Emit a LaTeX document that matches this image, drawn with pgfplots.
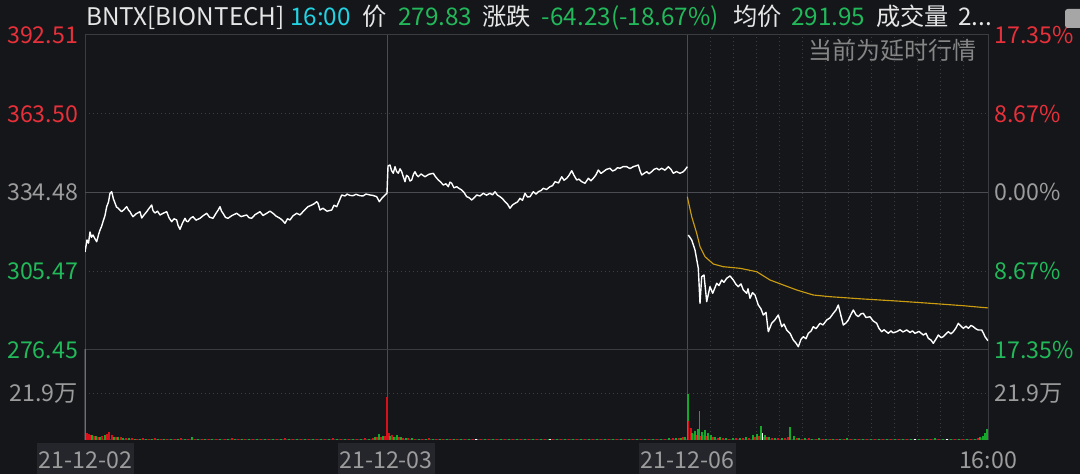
\documentclass[border=0pt]{standalone}
\usepackage{pgfplots}
\pgfplotsset{compat=1.18}
\usepackage{fontspec}
\setmainfont{Noto Sans CJK SC}
\definecolor{bg}{HTML}{14161A}
\definecolor{frame}{HTML}{3A3C41}
\definecolor{sep}{HTML}{4A4C51}
\definecolor{dotc}{HTML}{3A3D43}
\definecolor{upred}{HTML}{E8303A}
\definecolor{dngreen}{HTML}{22B95A}
\definecolor{labgray}{HTML}{9C9C9C}
\definecolor{hdrwhite}{HTML}{E6E6E6}
\definecolor{cyanc}{HTML}{22D3E3}
\definecolor{avgc}{HTML}{CC9C10}
\definecolor{boxbg}{HTML}{24262B}
\definecolor{barred}{HTML}{D8101A}
\definecolor{bargreen}{HTML}{16A82A}
\newcommand{\lab}{\fontsize{17.4}{20}\selectfont}
\pgfplotsset{
  base/.style={scale only axis, width=677.25pt, anchor=south west,
    xmin=0, xmax=903, axis line style={draw=frame, line width=0.75pt},
    major tick length=0pt, tick style={draw=none},
    tick label style={font=\lab},
    yticklabel style={anchor=east, inner sep=0pt, xshift=-5pt},
    xticklabels={}, grid style={draw=dotc, line width=0.75pt, dash pattern=on 0.75pt off 2.25pt},
    xtick={625.1,648.2,671.2,694.3,717.4,740.5,763.5,786.6,809.7,832.8,855.8,878.9},
    xmajorgrids, ymajorgrids,
    extra x ticks={302,602}, extra x tick labels={},
    extra x tick style={grid=major, major grid style={draw=sep, solid, line width=0.75pt}},
  },
  right/.style={scale only axis, width=677.25pt, anchor=south west,
    xmin=0, xmax=903, axis x line=none, axis y line*=right,
    y axis line style={draw=none}, major tick length=0pt, tick style={draw=none},
    tick label style={font=\lab},
    yticklabel style={anchor=west, inner sep=0pt, xshift=4.5pt}},
}
\begin{document}
\begin{tikzpicture}[x=0.75pt,y=0.75pt]
\fill[bg] (0,0) rectangle (1080,474);
\path[use as bounding box] (0,0) rectangle (1080,474);
% price panel
\begin{axis}[base, at={(63.75pt,93pt)}, height=236.25pt, ymin=276.45, ymax=392.51,
  ytick={276.45,305.47,363.50,392.51},
  yticklabels={\textcolor{dngreen}{276.45},\textcolor{dngreen}{305.47},\textcolor{upred}{363.50},\textcolor{upred}{392.51}},
  extra y ticks={334.48}, extra y tick labels={\textcolor{labgray}{334.48}},
  extra y tick style={grid=major, major grid style={draw=sep, solid, line width=0.75pt}},
]
\addplot[white, line width=1.05pt, line join=round] coordinates {
(0,312.56)(2,316.98)(3.5,315.8)(5,319.93)(6.5,318.0)(8,318.82)(10,317.4)(11.7,316.35)(13.5,318.9)(15,320.66)(16.5,321.9)(18,323.72)(20,326.0)(21.7,329.25)(23.5,331.0)(25,334.19)(26.7,334.77)(28.5,332.0)(30,330.61)(31.5,329.1)(33,328.77)(35,328.0)(36.7,327.41)(39,328.2)(41.7,329.25)(43.5,328.0)(45,327.41)(46.5,326.4)(48,325.56)(51,326.6)(55,327.41)(56.7,325.08)(59,326.2)(61.7,327.41)(64,328.6)(66.7,329.87)(68,327.8)(70,326.93)(72.5,327.6)(75,326.19)(78,326.8)(81.7,327.41)(84,325.2)(86.7,323.72)(89,324.8)(91.7,324.35)(93,322.4)(95,320.92)(97.5,323.2)(100,324.97)(101.5,323.9)(103,323.72)(105.5,325.0)(108,325.56)(111,324.3)(115,324.97)(118,325.9)(121.7,326.82)(124.5,325.4)(128,324.97)(131,326.8)(133,327.9)(135,329.25)(136.5,327.6)(138,326.82)(140.5,325.3)(143,324.97)(147,326.0)(151.7,326.82)(156,325.6)(161.7,326.19)(164,325.2)(166.7,324.97)(170,326.3)(175,327.41)(178,326.0)(181.7,326.82)(185,327.6)(188,326.82)(191,325.8)(195,324.97)(197.5,324.2)(200,323.13)(202.5,324.8)(205,324.35)(208,325.9)(211.7,326.82)(215,326.2)(218,327.41)(220.5,328.4)(223,329.25)(227,329.9)(229,330.3)(231.7,331.09)(233,330.5)(235,328.03)(238,328.66)(242,327.6)(246.7,328.03)(249,329.8)(251.7,329.25)(254,331.2)(256.7,333.56)(260,333.2)(262,333.9)(265,333.4)(268,333.3)(271,333.8)(275,333.3)(278,333.2)(281,333.9)(285,333.56)(288,333.4)(291.7,332.93)(294.3,331.09)(297,332.4)(300,333.56)(302,334.2)(303,344.24)(305,344.61)(306.5,342.6)(308.3,341.55)(310,343.99)(311.5,342.3)(313.3,341.55)(315,343.2)(316.7,342.14)(318,340.6)(320,338.46)(321.5,340.8)(323.3,340.30)(325,338.7)(326.7,339.09)(328.5,341.2)(330,342.14)(331.5,341.0)(333.3,340.30)(336,341.3)(340,340.30)(344,341.2)(348.3,341.55)(350.5,340.3)(353.3,339.09)(355.5,338.4)(358.3,337.24)(361,337.7)(363.3,336.62)(365,338.3)(366.7,337.87)(369,336.2)(371.7,336.62)(374,336.0)(376.7,335.40)(379,334.5)(381.7,332.93)(384,332.6)(386.7,331.72)(389,332.5)(391.7,333.56)(395,333.2)(398.3,334.19)(401.5,333.5)(405,334.19)(407.5,333.6)(410,334.77)(412.5,333.5)(415,332.93)(417.5,332.2)(420,331.09)(422.5,330.2)(425,328.66)(427.5,329.9)(430,330.50)(432.5,331.0)(435,332.34)(437.5,331.6)(440,334.19)(442.5,332.8)(445,332.93)(448.3,334.77)(451,333.9)(453.3,334.77)(456,335.2)(458.3,336.03)(461.5,335.6)(465,336.62)(467.5,337.0)(470,338.46)(473.5,338.0)(476.7,340.30)(479,339.0)(481.7,339.71)(484,340.8)(486.7,342.51)(489,340.8)(491.7,339.09)(494,339.4)(496.7,338.46)(500,337.87)(503.3,339.71)(506,338.8)(508.3,339.71)(511,341.0)(513.3,342.77)(516,341.5)(518.3,342.14)(521.5,343.0)(525,343.40)(527.5,342.4)(530,342.77)(532.5,343.6)(535,343.40)(538,344.0)(541.7,343.99)(545,343.3)(548.3,343.99)(551,344.3)(553.3,344.61)(555,342.5)(556.7,340.93)(559,341.5)(561.7,342.14)(564,341.4)(566.7,342.14)(569,343.0)(571.7,343.40)(574,342.8)(576.7,343.40)(580,342.7)(583.3,343.99)(586,343.0)(588.3,341.55)(591.5,342.2)(595,341.55)(598.3,342.14)(600,342.8)(602.3,343.99)
};
\addplot[white, line width=1.05pt, line join=round] coordinates {
(603.3,318.82)(606.7,316.98)(610,313.29)(613.3,306.55)(615,293.66)(616.7,303.46)(619,304.08)(621.7,294.25)(625,299.77)(627.7,297.34)(631.7,301.03)(634,300.2)(636.7,302.24)(639,301.4)(641.7,302.87)(645,303.72)(648.3,302.24)(651,300.6)(653.3,299.77)(656,300.8)(658.3,298.56)(661.7,297.34)(663,299.0)(665,295.50)(667.5,297.6)(670,296.71)(673.3,293.03)(676,291.6)(678.3,289.35)(681,290.3)(683.3,283.19)(686.7,286.29)(690,287.6)(693.3,289.35)(696.7,285.04)(699,286.0)(701.7,283.82)(705,282.6)(708.3,280.14)(711,279.0)(713.3,277.67)(716,280.4)(718.3,281.35)(721,280.6)(723.3,282.60)(726,283.4)(728.3,285.04)(731,284.3)(735,286.29)(738,285.7)(741.7,287.50)(745,288.3)(748.3,289.97)(751,291.2)(753.3,293.03)(756,289.0)(758.3,285.66)(761,286.4)(763.3,287.50)(766,289.6)(768.3,291.19)(771,289.4)(773.3,288.72)(776,289.8)(778.3,289.97)(781,288.4)(785,288.72)(788,287.2)(791.7,286.29)(794,284.4)(796.7,283.19)(799,283.9)(803.3,282.60)(806,283.5)(808,282.8)(811.7,283.19)(815,283.9)(818,283.1)(821.7,283.82)(825,282.9)(827.5,283.5)(830,282.60)(834,283.3)(838.3,281.98)(841,282.6)(843.3,280.76)(846,280.1)(848.3,278.92)(851,280.5)(853.3,281.98)(856,281.0)(858.3,281.35)(861,282.4)(863.3,283.19)(866,282.4)(868.3,283.19)(871,284.6)(873.3,286.29)(876,285.2)(878.3,284.45)(881,285.2)(883.3,284.45)(886,285.5)(888.3,285.04)(891,284.2)(893.3,283.82)(896.7,283.82)(898.5,282.6)(900,281.35)(903,279.83)
};
\addplot[avgc, line width=0.85pt] coordinates {
(602.3,332.93)(606.7,325.56)(611.7,319.45)(615,314.51)(620,310.83)(628.3,308.14)(638.3,307.14)(655,306.55)(671.7,305.30)(685,302.24)(698.3,300.40)(711.7,298.56)(728.3,296.71)(745,296.09)(778.3,295.24)(811.7,294.50)(845,293.66)(878.3,292.77)(903,291.95)
};
\end{axis}
\begin{axis}[right, at={(63.75pt,93pt)}, height=236.25pt, ymin=276.45, ymax=392.51,
  ytick={276.45,305.47,334.48,363.50,392.51},
  yticklabels={\textcolor{dngreen}{17.35\%},\textcolor{dngreen}{8.67\%},\textcolor{labgray}{0.00\%},\textcolor{upred}{8.67\%},\textcolor{upred}{17.35\%}}]
\end{axis}
% volume panel
\begin{axis}[base, at={(63.75pt,25.5pt)}, height=67.5pt, ymin=0, ymax=42.85,
  ytick={21.9}, yticklabels={\textcolor{labgray}{21.9万}}]
\addplot[ycomb, barred, line width=0.8pt] coordinates {
(2,3.5)(4,2.8)(6,2.5)(9,2)(13,1.6)(17,1.8)(22,2.9)(24,3.6)(27,2.2)(31,1.4)(36,1.5)(41,0.9)(47,1.1)(52,0.7)(58,0.8)(64,0.6)(70,0.9)(76,0.6)(82,0.7)(90,0.6)(96,0.8)(103,0.6)(110,0.7)(117,0.5)(124,0.6)(131,0.5)(140,0.7)(147,1.1)(153,0.6)(160,0.5)(168,0.6)(176,0.7)(184,0.5)(192,0.6)(200,0.8)(208,0.5)(216,0.6)(224,0.7)(232,0.5)(240,0.6)(248,0.8)(256,0.6)(264,0.7)(272,0.6)(280,0.8)(288,0.9)(292,1.3)(296,1.6)(300,2)
(302,20.5)(304,3.2)(307,2.4)(310,1.6)(314,1.3)(318,1.1)(323,0.9)(330,0.7)(337,0.6)(344,0.8)(351,0.5)(358,0.7)(365,0.6)(372,0.5)(380,0.7)(388,0.6)(396,0.5)(404,0.7)(412,0.6)(420,0.5)(428,0.6)(436,0.7)(444,0.5)(452,0.6)(460,0.7)(468,0.5)(476,0.6)(484,0.5)(492,0.7)(500,0.6)(508,0.5)(516,0.6)(524,0.7)(532,0.5)(540,0.6)(548,0.5)(556,0.7)(564,0.6)(572,0.5)(580,0.6)(588,0.8)(594,1.0)(598,1.3)
(606,5.5)(608,3.0)(611,2.5)(616,2.0)(619,2.4)(622,1.8)(628,1.5)(633,1.0)(638,0.8)(644,0.7)(651,0.9)(658,0.8)(664,1.1)(670,1.3)(674,1.9)(678,1.4)(682,1.2)(687,0.9)(693,1.0)(700,1.1)(703,1.5)(712,0.9)(717,0.7)(724,0.8)(731,0.6)(738,0.7)(745,0.5)(752,0.7)(759,0.6)(766,0.5)(774,0.7)(782,0.6)(790,0.5)(798,0.7)(806,0.6)(814,0.5)(822,0.6)(830,0.7)(838,0.5)(846,0.6)(854,0.5)(862,0.7)(870,0.6)(878,0.5)(886,0.6)(893,0.8)(897,1.0)(901,1.5)
};
\addplot[ycomb, bargreen, line width=0.8pt] coordinates {
(0.6,45)(7,2.2)(11,1.8)(15,1.3)(20,2.2)(29,1.6)(33,1.3)(38,1.1)(44,0.8)(50,0.6)(55,0.7)(61,0.5)(67,0.7)(73,0.6)(79,0.6)(86,0.7)(93,0.5)(100,0.6)(107,1.2)(113,0.7)(120,0.5)(127,0.6)(135,0.7)(143,0.5)(150,0.6)(157,0.7)(164,0.5)(172,0.6)(180,0.5)(188,0.7)(196,0.6)(204,0.5)(212,0.7)(220,0.6)(228,0.5)(236,0.6)(244,0.7)(252,0.5)(260,0.6)(268,0.5)(276,0.7)(284,0.6)(290,1.2)(294,2.8)(298,1.9)
(305,2.0)(309,1.5)(312,2.6)(316,1.2)(321,1.0)(327,0.8)(334,0.7)(341,0.6)(348,0.5)(355,0.6)(362,0.7)(369,0.5)(376,0.6)(384,0.5)(392,0.6)(400,0.7)(408,0.5)(416,0.6)(424,0.5)(432,0.6)(440,0.5)(448,0.7)(456,0.6)(464,0.5)(472,0.6)(480,0.7)(488,0.5)(496,0.6)(504,0.5)(512,0.7)(520,0.6)(528,0.5)(536,0.6)(544,0.5)(552,0.6)(560,0.5)(568,0.7)(576,0.6)(584,0.8)(591,1.1)(596,0.9)(600,1.4)
(603,21.9)(607,3.5)(610,4.2)(613,5.0)(614.5,13.8)(617,4.0)(620,4.6)(623,3.2)(626,2.4)(630,1.6)(635,1.2)(641,0.9)(648,0.8)(655,1.0)(661,1.4)(668,2.2)(672,3.0)(676,6.7)(680,2.4)(684,1.4)(690,1.0)(697,0.9)(705,6.0)(709,1.8)(714,1.0)(720,0.8)(727,0.7)(734,0.9)(741,0.6)(748,0.7)(755,0.6)(762,0.8)(770,0.6)(778,0.7)(786,0.5)(794,0.6)(802,0.7)(810,0.5)(818,0.6)(826,0.7)(834,0.5)(842,0.6)(850,0.8)(858,0.6)(866,0.5)(874,0.6)(882,0.5)(890,0.7)(895,1.2)(898,2.0)(900,3.2)(902,5.0)
};
\addplot[ycomb, barred, line width=0.8pt] coordinates {(603.8,9.0)};
\addplot[ycomb, white, line width=0.8pt] coordinates {(677.5,3.3)(391,0.4)(465,0.4)(830,0.4)(862,0.4)};
\end{axis}
\begin{axis}[right, at={(63.75pt,25.5pt)}, height=67.5pt, ymin=0, ymax=42.85,
  ytick={21.9}, yticklabels={\textcolor{labgray}{21.9万}}]
\end{axis}
% header
\begin{scope}[every node/.style={anchor=base west, inner sep=0pt, font=\fontsize{18.2}{20}\selectfont}]
\node[text=hdrwhite] at (86,448) {BNTX[BIONTECH]};
\node[text=cyanc] at (290,448) {16:00};
\node[text=hdrwhite] at (362,448) {价};
\node[text=dngreen] at (398,448) {279.83};
\node[text=hdrwhite] at (482,448) {涨跌};
\node[text=dngreen] at (541.7,448) {-64.23(-18.67\%)};
\node[text=hdrwhite] at (733,448) {均价};
\node[text=dngreen] at (791,448) {291.95};
\node[text=hdrwhite] at (876,448) {成交量};
\node[text=hdrwhite] at (958,448) {2...};
\end{scope}
\node[anchor=base east, inner sep=0pt, text=labgray!85!black, font=\fontsize{18}{20}\selectfont] at (977,414) {当前为延时行情};
\fill[gray!70, rounded corners=2pt] (1065,446) rectangle (1090,465);
% date labels
\begin{scope}[every node/.style={anchor=base, inner sep=0pt, text=labgray, font=\lab}]
\node[fill=boxbg, minimum width=72.75pt, minimum height=23.25pt, text depth=4.5pt, text height=18.75pt] at (85.2,6) {21-12-02};
\node[fill=boxbg, minimum width=72.75pt, minimum height=23.25pt, text depth=4.5pt, text height=18.75pt] at (386,6) {21-12-03};
\node[fill=boxbg, minimum width=72.75pt, minimum height=23.25pt, text depth=4.5pt, text height=18.75pt] at (687.5,6) {21-12-06};
\node at (988,6) {16:00};
\end{scope}
\end{tikzpicture}
\end{document}
